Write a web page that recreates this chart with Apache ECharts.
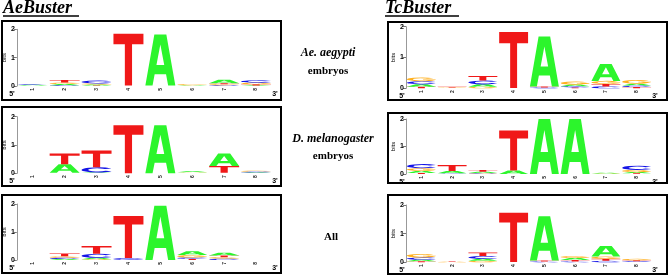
<!DOCTYPE html>
<html>
<head>
<meta charset="utf-8">
<script src="https://cdn.jsdelivr.net/npm/echarts@6/dist/echarts.min.js"></script>
<style>
  html, body { margin: 0; padding: 0; background: #fff; }
  #main { width: 669px; height: 276px; }
</style>
</head>
<body>
<div id="main"></div>
<script>
// logo positions and bases
var positions = ['1', '2', '3', '4', '5', '6', '7', '8'];
var bases = ['A', 'C', 'G', 'T'];
var yTicks = [0, 1, 2];

// AeBuster, Ae. aegypti embryos (bits per base)
var aeAegA = [0.02, 0.04, 0.03, 0.01, 1.80, 0.02, 0.12, 0.02];
var aeAegC = [0.02, 0.03, 0.10, 0.01, 0.00, 0.00, 0.03, 0.08];
var aeAegG = [0.01, 0.05, 0.04, 0.00, 0.01, 0.03, 0.03, 0.06];
var aeAegT = [0.01, 0.09, 0.02, 1.82, 0.01, 0.01, 0.04, 0.04];
// AeBuster, D. melanogaster embryos
var aeMelA = [0.00, 0.30, 0.02, 0.00, 1.70, 0.03, 0.44, 0.02];
var aeMelC = [0.00, 0.01, 0.18, 0.00, 0.00, 0.01, 0.01, 0.03];
var aeMelG = [0.00, 0.01, 0.01, 0.00, 0.00, 0.02, 0.01, 0.03];
var aeMelT = [0.00, 0.38, 0.60, 1.70, 0.00, 0.01, 0.24, 0.01];
// AeBuster, All
var aeAllA = [0.00, 0.04, 0.05, 0.00, 1.94, 0.13, 0.10, 0.00];
var aeAllC = [0.00, 0.04, 0.14, 0.07, 0.00, 0.05, 0.05, 0.00];
var aeAllG = [0.00, 0.05, 0.03, 0.00, 0.00, 0.09, 0.05, 0.00];
var aeAllT = [0.00, 0.10, 0.28, 1.50, 0.00, 0.04, 0.06, 0.00];
// TcBuster, Ae. aegypti embryos
var tcAegA = [0.08, 0.01, 0.08, 0.00, 1.62, 0.05, 0.55, 0.06];
var tcAegC = [0.10, 0.00, 0.12, 0.00, 0.03, 0.04, 0.06, 0.05];
var tcAegG = [0.12, 0.02, 0.05, 0.01, 0.00, 0.10, 0.10, 0.12];
var tcAegT = [0.05, 0.02, 0.15, 1.82, 0.03, 0.03, 0.08, 0.04];
// TcBuster, D. melanogaster embryos
var tcMelA = [0.07, 0.08, 0.04, 0.13, 2.00, 2.00, 0.03, 0.04];
var tcMelC = [0.15, 0.02, 0.02, 0.00, 0.00, 0.00, 0.00, 0.15];
var tcMelG = [0.10, 0.01, 0.02, 0.00, 0.00, 0.00, 0.02, 0.08];
var tcMelT = [0.04, 0.22, 0.07, 1.45, 0.00, 0.00, 0.00, 0.03];
// TcBuster, All
var tcAllA = [0.05, 0.00, 0.07, 0.00, 1.55, 0.07, 0.37, 0.01];
var tcAllC = [0.08, 0.00, 0.10, 0.00, 0.03, 0.03, 0.05, 0.03];
var tcAllG = [0.12, 0.02, 0.05, 0.01, 0.00, 0.07, 0.08, 0.05];
var tcAllT = [0.04, 0.02, 0.12, 1.72, 0.03, 0.05, 0.07, 0.03];

var COLORS = { A: '#2cf52c', C: '#1414e6', G: '#ffb020', T: '#f01818' };

// letter outlines in a 100x100 box, stretched to each stack cell
var LETTER_PATHS = {
  A: 'M0,100 L30,0 L70,0 L100,100 L76,100 L69,78 L31,78 L24,100 Z M37,60 L63,60 L50,20 Z',
  C: 'M92,22 A50,50 0 1 0 92,78 L74,66 A29,29 0 1 1 74,34 Z',
  G: 'M92,22 A50,50 0 1 0 100,50 L56,50 L56,64 L75,64 A29,29 0 1 1 74,34 Z',
  T: 'M0,0 L100,0 L100,20 L62,20 L62,100 L38,100 L38,20 L0,20 Z'
};

// stack each column smallest-first so the dominant base sits on top
function stackColumns (a, c, g, t) {
  var cols = [a, c, g, t];
  var out = [];
  for (var i = 0; i < positions.length; i++) {
    var items = [0, 1, 2, 3].map(function (k) { return { k: k, v: cols[k][i] }; });
    items.sort(function (p, q) { return p.v - q.v; });
    var base = 0;
    items.forEach(function (it) {
      if (it.v > 0) out.push([i, base, base + it.v, it.k]);
      base += it.v;
    });
  }
  return out;
}

function renderLetter (params, api) {
  var pos = api.value(0);
  var lo = api.value(1);
  var hi = api.value(2);
  var b = bases[api.value(3)];
  var p0 = api.coord([pos, lo]);
  var p1 = api.coord([pos, hi]);
  var w = api.size([1, 0])[0] * 0.94;
  var h = p0[1] - p1[1];
  if (h < 0.4) return;
  return {
    type: 'path',
    shape: {
      pathData: LETTER_PATHS[b],
      x: p0[0] - w / 2, y: p1[1], width: w, height: h,
      layout: 'cover'
    },
    style: { fill: COLORS[b] }
  };
}

var panels = [
  { data: stackColumns(aeAegA, aeAegC, aeAegG, aeAegT), grid: { left: 16, width: 256, top: 29.3, height: 56.7 }, box: [2, 21, 279, 79] },
  { data: stackColumns(aeMelA, aeMelC, aeMelG, aeMelT), grid: { left: 16, width: 256, top: 116.7, height: 56.6 }, box: [2, 107, 279, 79] },
  { data: stackColumns(aeAllA, aeAllC, aeAllG, aeAllT), grid: { left: 16, width: 256, top: 204, height: 56 }, box: [2, 195, 279, 78] },
  { data: stackColumns(tcAegA, tcAegC, tcAegG, tcAegT), grid: { left: 406, width: 246, top: 26.7, height: 61.6 }, box: [388, 22, 279, 78] },
  { data: stackColumns(tcMelA, tcMelC, tcMelG, tcMelT), grid: { left: 406, width: 246, top: 119, height: 55 }, box: [388, 113, 279, 70] },
  { data: stackColumns(tcAllA, tcAllC, tcAllG, tcAllT), grid: { left: 406, width: 246, top: 205, height: 57.3 }, box: [388, 195, 279, 79] }
];

var grids = [], xAxes = [], yAxes = [], series = [], graphics = [];

panels.forEach(function (p, i) {
  grids.push(p.grid);
  xAxes.push({
    type: 'category', gridIndex: i, data: positions,
    axisLine: { show: false }, axisTick: { show: false },
    axisLabel: { rotate: 90, fontSize: 5, margin: 2, color: '#222', fontFamily: 'Liberation Sans', fontWeight: 'bold' }
  });
  yAxes.push({
    type: 'value', gridIndex: i, min: yTicks[0], max: yTicks[yTicks.length - 1], interval: 1,
    name: 'bits', nameLocation: 'middle', nameRotate: 90, nameGap: 9,
    nameTextStyle: { fontSize: 6, color: '#000', fontFamily: 'Liberation Sans' },
    axisLine: { show: true, lineStyle: { color: '#999', width: 1 } },
    axisTick: { show: true, length: 3, lineStyle: { color: '#777' } },
    axisLabel: { fontSize: 7, margin: 2, color: '#000', fontFamily: 'Liberation Sans', fontWeight: 'bold' },
    splitLine: { show: false }
  });
  series.push({
    type: 'custom', xAxisIndex: i, yAxisIndex: i,
    renderItem: renderLetter,
    encode: { x: 0, y: [1, 2] },
    data: p.data
  });
  graphics.push({
    type: 'rect', shape: { x: p.box[0], y: p.box[1], width: p.box[2], height: p.box[3] },
    style: { fill: 'none', stroke: '#000', lineWidth: 2 }
  });
  var bottom = p.grid.top + p.grid.height + 8;
  graphics.push({ type: 'text', x: p.grid.left - 4, y: bottom,
    style: { text: "5'", font: 'bold 7px "Liberation Sans"', fill: '#000', textAlign: 'center', verticalAlign: 'middle' } });
  graphics.push({ type: 'text', x: p.grid.left + p.grid.width + 3, y: bottom,
    style: { text: "3'", font: 'bold 7px "Liberation Sans"', fill: '#000', textAlign: 'center', verticalAlign: 'middle' } });
});

function label (text, x, y, font, align) {
  return { type: 'text', x: x, y: y,
    style: { text: text, font: font, fill: '#000', textAlign: align || 'center', verticalAlign: 'middle' } };
}

var titleFont = 'bold italic 18px "Liberation Serif"';
graphics.push(label('AeBuster', 3, 8.5, titleFont, 'left'));
graphics.push(label('TcBuster', 385, 8.5, titleFont, 'left'));
graphics.push({ type: 'line', shape: { x1: 3, y1: 16, x2: 79, y2: 16 }, style: { stroke: '#000', lineWidth: 1.5 } });
graphics.push({ type: 'line', shape: { x1: 385, y1: 16, x2: 459, y2: 16 }, style: { stroke: '#000', lineWidth: 1.5 } });

var midItalic = 'bold italic 12px "Liberation Serif"';
var midBold = 'bold 11px "Liberation Serif"';
graphics.push(label('Ae. aegypti', 328, 53, midItalic));
graphics.push(label('embryos', 328, 71, midBold));
graphics.push(label('D. melanogaster', 333, 139, midItalic));
graphics.push(label('embryos', 333, 156, midBold));
graphics.push(label('All', 331, 237, midBold));

var chart = echarts.init(document.getElementById('main'), null, { renderer: 'canvas' });
chart.setOption({
  animation: false,
  backgroundColor: '#fff',
  grid: grids,
  xAxis: xAxes,
  yAxis: yAxes,
  series: series,
  graphic: graphics
});
</script>
</body>
</html>
